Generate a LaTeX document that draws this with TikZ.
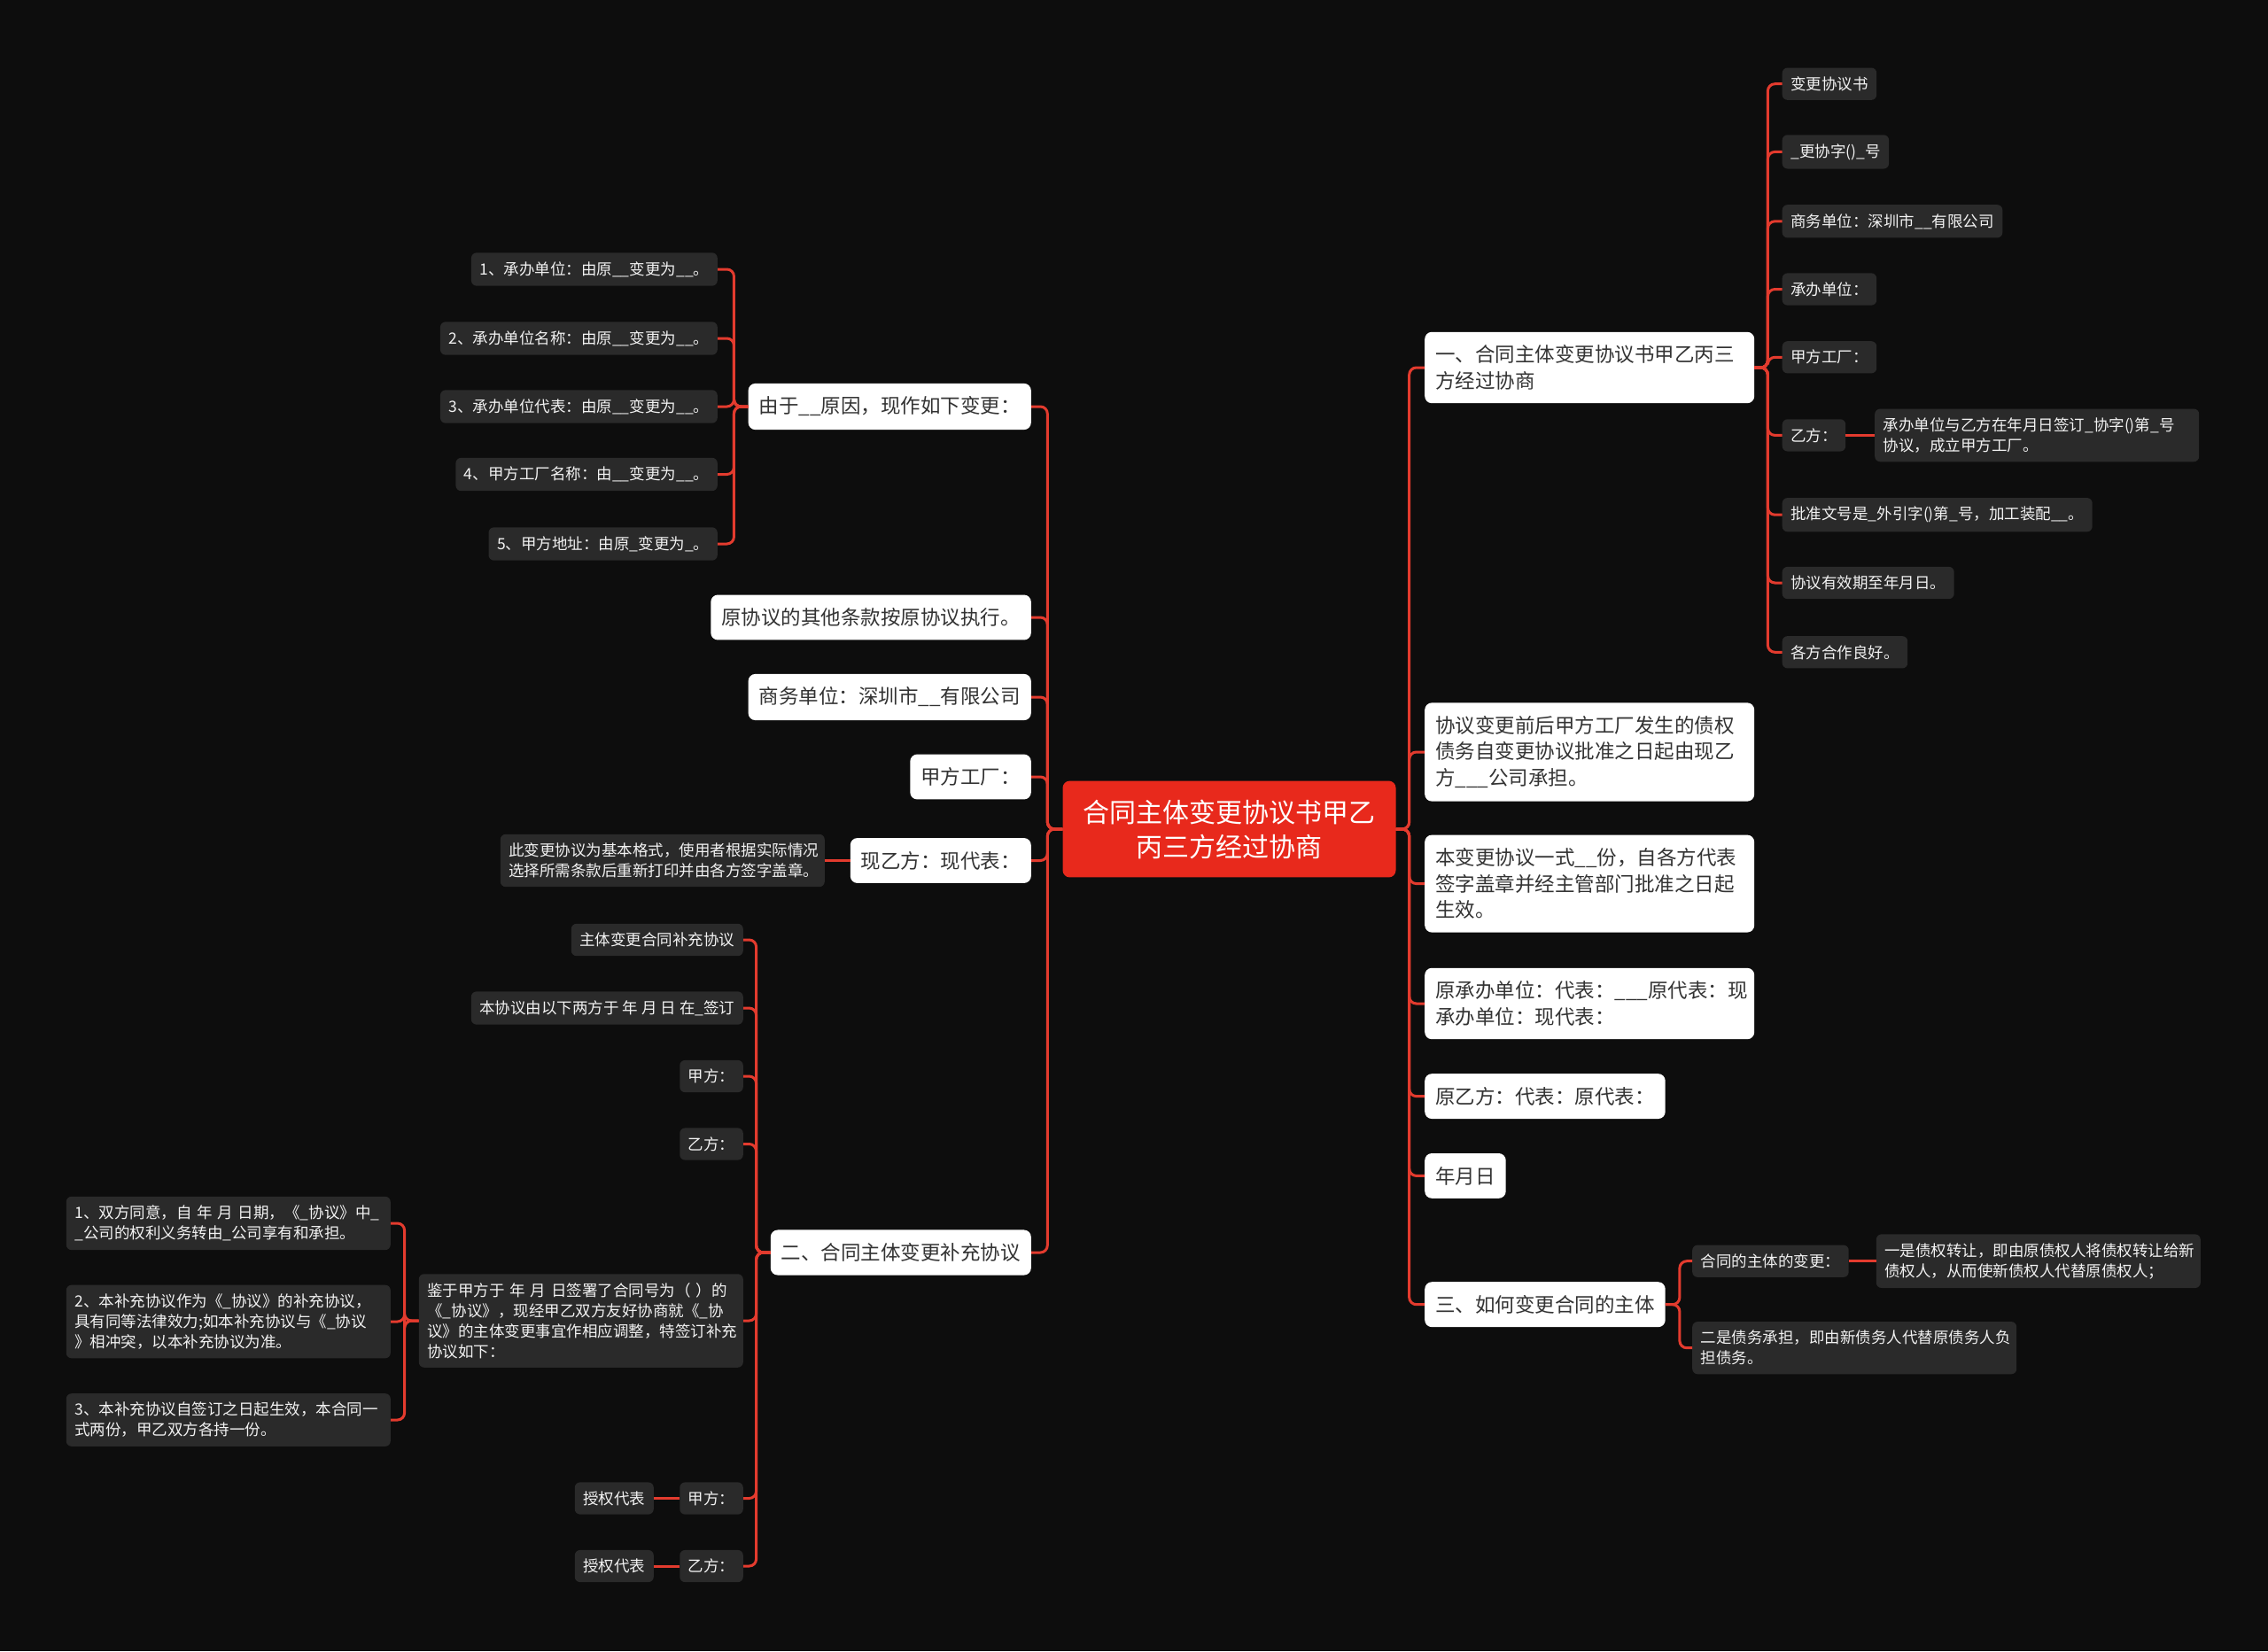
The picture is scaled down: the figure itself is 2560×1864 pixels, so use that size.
\documentclass[tikz,border=0pt]{standalone}
\usepackage{fontspec}
\newfontfamily\cjk{Noto Sans CJK SC}
\definecolor{bg}{HTML}{0D0D0D}
\definecolor{linec}{HTML}{E33B2E}
\definecolor{rootc}{HTML}{E8291C}
\definecolor{darkbox}{HTML}{2A2A2A}
\definecolor{textdark}{HTML}{333333}
\definecolor{textlight}{HTML}{F2F2F2}
\begin{document}
\begin{tikzpicture}[x=1pt,y=-1pt,
  conn/.style={draw=linec, line width=3pt, rounded corners=8pt},
  small/.style={fill=darkbox, text=textlight, rounded corners=6pt,
    font={\fontsize{17.5}{23}\selectfont\cjk}, inner xsep=9.5pt, inner ysep=10pt, align=left},
  big/.style={fill=white, text=textdark, rounded corners=8pt,
    font={\fontsize{22.5}{29.5}\selectfont\cjk}, inner xsep=12pt, inner ysep=15pt, align=left},
  wraps/.style={text width=347pt},
  wrapb/.style={text width=348pt},
  root/.style={fill=rootc, text=white, rounded corners=8pt,
    font={\fontsize{30}{39}\selectfont\cjk}, inner xsep=23pt, inner ysep=21pt, align=center}]
\fill[bg] (0,0) rectangle (2560,1864);
\useasboundingbox (0,0) rectangle (2560,1864);

% root
\node[root] (c) at (1387.5,936) {合同主体变更协议书甲乙\\丙三方经过协商};

% left main branches
\node[big,anchor=east] (l1) at (1164,459) {由于\_\_原因，现作如下变更：};
\node[big,anchor=east] (l2) at (1164,697) {原协议的其他条款按原协议执行。};
\node[big,anchor=east] (l3) at (1164,787) {商务单位：深圳市\_\_有限公司};
\node[big,anchor=east] (l4) at (1164,877) {甲方工厂：};
\node[big,anchor=east] (l5) at (1164,971.5) {现乙方：现代表：};
\node[big,anchor=east] (l6) at (1164,1414) {二、合同主体变更补充协议};

% children of l1
\node[small,anchor=east] (a1) at (810,304) {1、承办单位：由原\_\_变更为\_\_。};
\node[small,anchor=east] (a2) at (810,382) {2、承办单位名称：由原\_\_变更为\_\_。};
\node[small,anchor=east] (a3) at (810,459) {3、承办单位代表：由原\_\_变更为\_\_。};
\node[small,anchor=east] (a4) at (810,535.5) {4、甲方工厂名称：由\_\_变更为\_\_。};
\node[small,anchor=east] (a5) at (810,614) {5、甲方地址：由原\_变更为\_。};

% note of l5
\node[small,wraps,anchor=east] (n5) at (931,971.5) {此变更协议为基本格式，使用者根据实际情况\\选择所需条款后重新打印并由各方签字盖章。};

% children of l6
\node[small,anchor=east] (b1) at (839,1061) {主体变更合同补充协议};
\node[small,anchor=east] (b2) at (839,1138) {本协议由以下两方于 年 月 日 在\_签订};
\node[small,anchor=east] (b3) at (839,1215) {甲方：};
\node[small,anchor=east] (b4) at (839,1291.5) {乙方：};
\node[small,wraps,anchor=east] (b5) at (839,1491) {鉴于甲方于 年 月 日签署了合同号为（ ）的\\《\_协议》，现经甲乙双方友好协商就《\_协\\议》的主体变更事宜作相应调整，特签订补充\\协议如下：};
\node[small,anchor=east] (b6) at (839,1691.5) {甲方：};
\node[small,anchor=east] (b7) at (839,1768) {乙方：};
\node[small,anchor=east] (b6c) at (738,1691.5) {授权代表};
\node[small,anchor=east] (b7c) at (738,1768) {授权代表};

% children of b5
\node[small,wraps,anchor=east] (d1) at (441,1381) {1、双方同意，自 年 月 日期，《\_协议》中\_\\\_公司的权利义务转由\_公司享有和承担。};
\node[small,wraps,anchor=east] (d2) at (441,1492) {2、本补充协议作为《\_协议》的补充协议，\\具有同等法律效力;如本补充协议与《\_协议\\》相冲突，以本补充协议为准。};
\node[small,wraps,anchor=east] (d3) at (441,1603) {3、本补充协议自签订之日起生效，本合同一\\式两份，甲乙双方各持一份。};

% right main branches
\node[big,wrapb,anchor=west] (r1) at (1608,415) {一、合同主体变更协议书甲乙丙三\\方经过协商};
\node[big,wrapb,anchor=west] (r2) at (1608,849) {协议变更前后甲方工厂发生的债权\\债务自变更协议批准之日起由现乙\\方\_\_\_公司承担。};
\node[big,wrapb,anchor=west] (r3) at (1608,997.6) {本变更协议一式\_\_份，自各方代表\\签字盖章并经主管部门批准之日起\\生效。};
\node[big,wrapb,anchor=west] (r4) at (1608,1133) {原承办单位：代表：\_\_\_原代表：现\\承办单位：现代表：};
\node[big,anchor=west] (r5) at (1608,1237.6) {原乙方：代表：原代表：};
\node[big,anchor=west] (r6) at (1608,1327.4) {年月日};
\node[big,anchor=west] (r7) at (1608,1472.7) {三、如何变更合同的主体};

% children of r1
\node[small,anchor=west] (e1) at (2011.5,94.7) {变更协议书};
\node[small,anchor=west] (e2) at (2011.5,171.4) {\_更协字()\_号};
\node[small,anchor=west] (e3) at (2011.5,249.8) {商务单位：深圳市\_\_有限公司};
\node[small,anchor=west] (e4) at (2011.5,326.5) {承办单位：};
\node[small,anchor=west] (e5) at (2011.5,403.3) {甲方工厂：};
\node[small,anchor=west] (e6) at (2011.5,491.4) {乙方：};
\node[small,wraps,anchor=west] (e6c) at (2116,491.4) {承办单位与乙方在年月日签订\_协字()第\_号\\协议，成立甲方工厂。};
\node[small,anchor=west] (e7) at (2011.5,581.2) {批准文号是\_外引字()第\_号，加工装配\_\_。};
\node[small,anchor=west] (e8) at (2011.5,658) {协议有效期至年月日。};
\node[small,anchor=west] (e9) at (2011.5,736.3) {各方合作良好。};

% children of r7
\node[small,anchor=west] (f1) at (1910,1423.7) {合同的主体的变更：};
\node[small,wraps,anchor=west] (f1c) at (2117.6,1423.7) {一是债权转让，即由原债权人将债权转让给新\\债权人，从而使新债权人代替原债权人；};
\node[small,wraps,anchor=west] (f2) at (1910,1521.7) {二是债务承担，即由新债务人代替原债务人负\\担债务。};

% connectors
\foreach \n in {l1,l2,l3,l4,l5,l6} \draw[conn] (c.west) -- ++(-17,0) |- (\n.east);
\foreach \n in {r1,r2,r3,r4,r5,r6,r7} \draw[conn] (c.east) -- ++(15,0) |- (\n.west);
\foreach \n in {a1,a2,a3,a4,a5} \draw[conn] (l1.west) -- ++(-16,0) |- (\n.east);
\draw[conn] (l5.west) -- (n5.east);
\foreach \n in {b1,b2,b3,b4,b5,b6,b7} \draw[conn] (l6.west) -- ++(-16,0) |- (\n.east);
\foreach \n in {d1,d2,d3} \draw[conn] (b5.west) -- ++(-16,0) |- (\n.east);
\draw[conn] (b6.west) -- (b6c.east);
\draw[conn] (b7.west) -- (b7c.east);
\foreach \n in {e1,e2,e3,e4,e5,e6,e7,e8,e9} \draw[conn] (r1.east) -- ++(15,0) |- (\n.west);
\draw[conn] (e6.east) -- (e6c.west);
\foreach \n in {f1,f2} \draw[conn] (r7.east) -- ++(16,0) |- (\n.west);
\draw[conn] (f1.east) -- (f1c.west);
\end{tikzpicture}
\end{document}
